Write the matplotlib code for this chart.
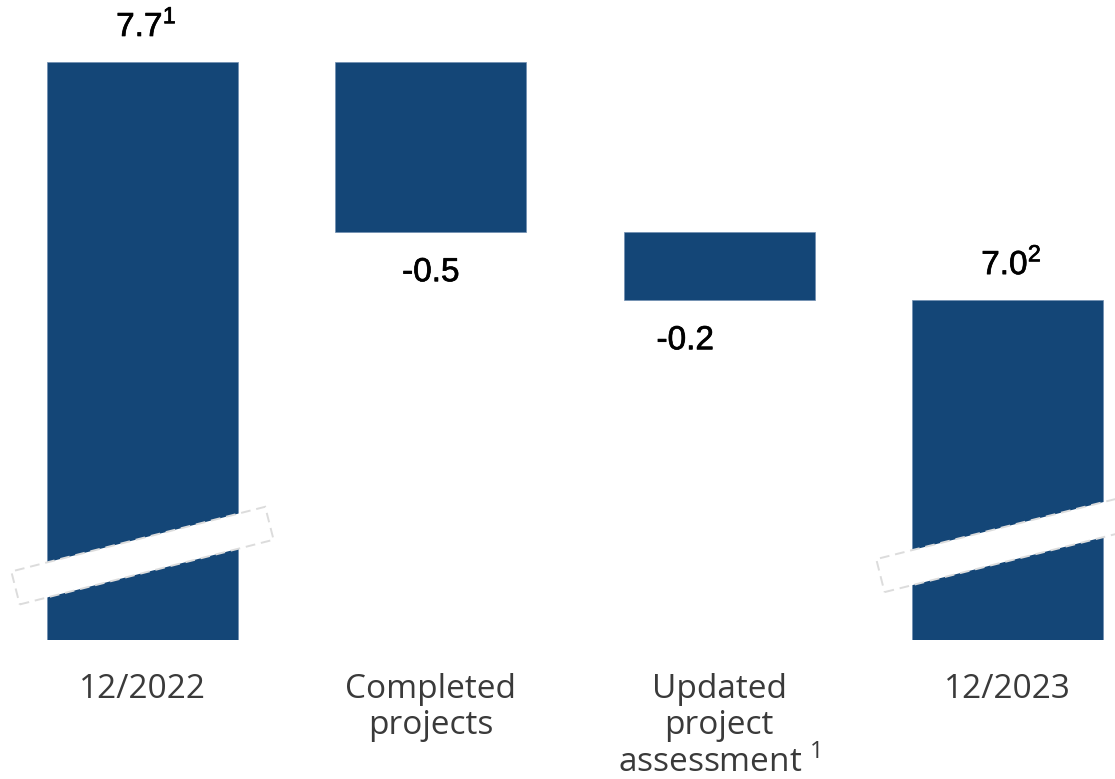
import numpy as np
import matplotlib
matplotlib.use("Agg")
import matplotlib.pyplot as plt
import matplotlib.patches as mpatches
import matplotlib.transforms as mtransforms
import matplotlib.patheffects as pe

# ---- data -------------------------------------------------------------
categories = ["12/2022", "Completed\nprojects",
              "Updated\nproject\nassessment $^{\\mathregular{1}}$", "12/2023"]
start_value = 7.7
changes = [-0.5, -0.2]
end_value = 7.0
value_labels = ["7.7", "-0.5", "-0.2", "7.0"]
footnotes = ["1", "", "", "2"]
axis_base = 6.0          # broken axis: bars start here

BAR_COLOR = "#144677"
LABEL_COLOR = "#3a3a3a"
DPI = 100
PX = 72 / DPI            # pixels -> points

# ---- bar geometry from the data ----------------------------------------
bottoms, heights = [axis_base], [start_value - axis_base]
level = start_value
for c in changes:
    new_level = level + c
    bottoms.append(min(level, new_level))
    heights.append(abs(c))
    level = new_level
bottoms.append(axis_base)
heights.append(end_value - axis_base)
x = np.arange(len(categories))

fig = plt.figure(figsize=(11.15, 7.79), dpi=DPI)
fig.patch.set_facecolor("white")
ax = fig.add_axes([0, 139 / 779, 1, 640 / 779])
ax.bar(x, heights, bottom=bottoms, width=0.662, color=BAR_COLOR,
       edgecolor="#6f8db0", linewidth=0.5, zorder=2)

ax.set_xlim(-0.494, 3.373)
ax.set_ylim(axis_base, 7.881)
ax.set_xticks([])
ax.set_yticks([])
for sp in ax.spines.values():
    sp.set_visible(False)

# category labels below the bars
for i, cat in enumerate(categories):
    ax.annotate(cat, (x[i], axis_base), xytext=(0, -33 * PX),
                textcoords="offset points", ha="center", va="top",
                fontsize=24, color=LABEL_COLOR, linespacing=1.13,
                family=["Open Sans", "DejaVu Sans"], annotation_clip=False)

# ---- value labels -------------------------------------------------------
tops = [b + h for b, h in zip(bottoms, heights)]
for i, (lab, fn) in enumerate(zip(value_labels, footnotes)):
    txt = lab + ("$^{\\mathregular{%s}}$" % fn if fn else "")
    if lab.startswith("-"):
        y, dy = bottoms[i], -41
        dx = -34 if i == 2 else 0
    else:
        y, dy, dx = tops[i], 36, 4
    ax.annotate(txt, (x[i], y), xytext=(dx * PX, dy * PX),
                textcoords="offset points", ha="center", va="center",
                fontsize=24, color="black", family="Liberation Sans",
                path_effects=[pe.withStroke(linewidth=0.5, foreground="black")])

# ---- axis-break bands ---------------------------------------------------
fig.canvas.draw()
breaks = [(0, 6.248, 14.3), (3, 6.283, 14.1)]
for i, yb, ang in breaks:
    cx, cy = ax.transData.transform((x[i], yb))
    length, thick = 262, 34
    rect = mpatches.Rectangle((cx - length / 2, cy - thick / 2), length, thick,
                              facecolor="white", edgecolor="#dcdcdc",
                              linewidth=1.4, linestyle=(0, (5, 3)),
                              transform=mtransforms.Affine2D()
                              .rotate_deg_around(cx, cy, ang),
                              zorder=5, clip_on=False)
    fig.add_artist(rect)

fig.savefig("out.png", dpi=DPI, facecolor="white")
